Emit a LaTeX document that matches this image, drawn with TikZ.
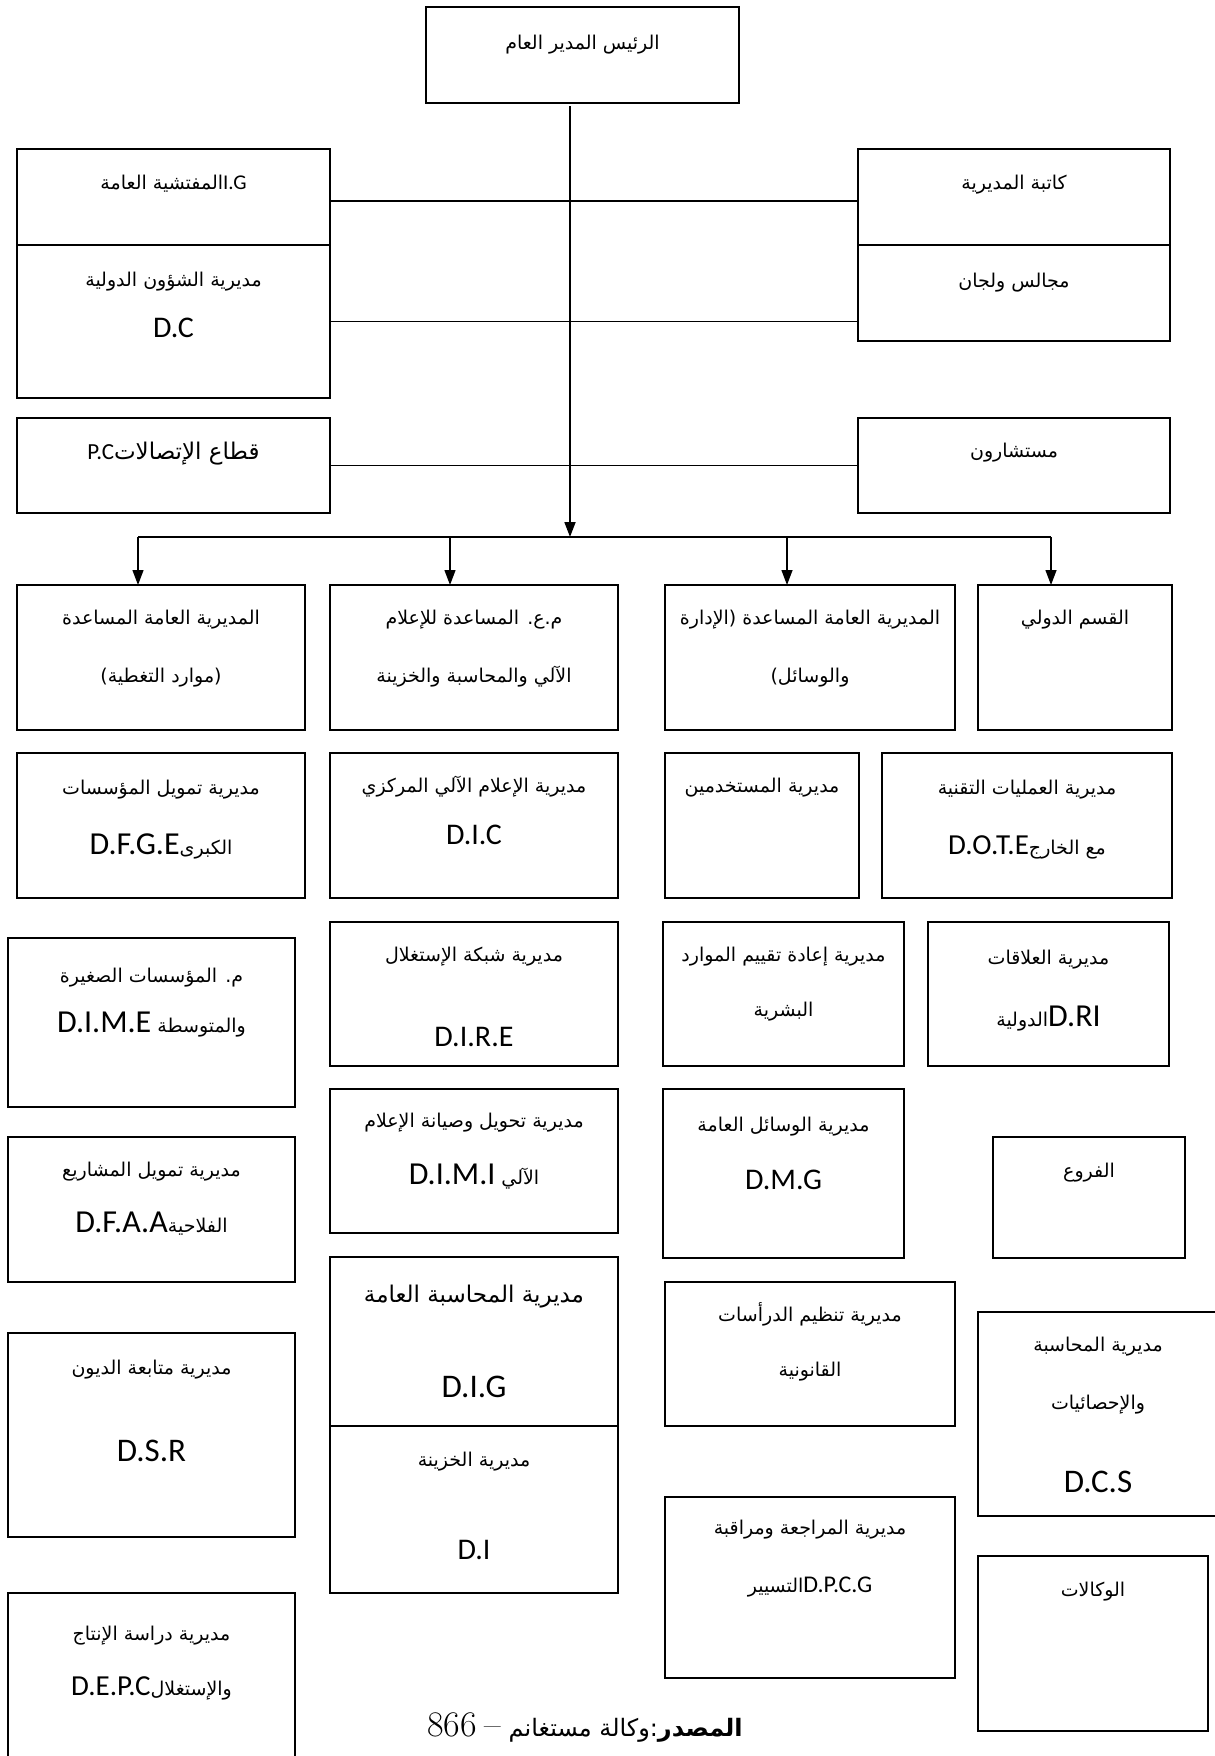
\documentclass[tikz,border=0pt]{standalone}
\usepackage{fontspec}
\usetikzlibrary{arrows.meta}
\TeXXeTstate=1
\newfontfamily\arabicfont[Script=Arabic]{DejaVu Sans}
\newfontfamily\latinfont{Carlito}
\newcommand{\ar}[1]{{\arabicfont\beginR #1\endR}}
\newcommand{\lat}[2][32]{\beginL{\latinfont\fontsize{#1}{#1}\selectfont #2}\endL}
% box from (x1,y1) to (x2,y2), pixel units, y going down
\newcommand{\orgbox}[5]{%
  \node[unit, minimum width=#4-#2, minimum height=#5-#3] (#1) at ({(#2+#4)/2},{(#3+#5)/2}) {};}
\begin{document}
\begin{tikzpicture}[x=1pt, y=-1pt,
    unit/.style={draw, line width=1.6pt, inner sep=0pt, outer sep=0pt},
    link/.style={line width=1.3pt},
    tip/.style={-{Triangle[length=15pt, width=11pt]}},
    lbl/.style={inner sep=0pt, text height=14pt, text depth=5pt, font=\fontsize{19}{21}\selectfont},
    biglbl/.style={lbl, font=\fontsize{23}{25}\selectfont},
    code/.style={inner sep=0pt, text height=19pt, text depth=0pt, font=\latinfont\fontsize{30}{30}\selectfont},
    bigcode/.style={code, font=\latinfont\fontsize{33}{33}\selectfont}]
    \useasboundingbox[fill=white] (0,0) rectangle (1215,1756);

    % top of the chart
    \orgbox{boss}{426}{7}{739}{103}
    \orgbox{ig}{17}{149}{330}{245}
    \orgbox{dc}{17}{245}{330}{398}
    \orgbox{pc}{17}{418}{330}{513}
    \orgbox{sec}{858}{149}{1170}{245}
    \orgbox{councils}{858}{245}{1170}{341}
    \orgbox{advisers}{858}{418}{1170}{513}

    \node[lbl] (boss-a) at (boss |- 0,45) {\ar{الرئيس المدير العام}};
    \node[lbl] (ig-a) at (ig |- 0,185) {\ar{\lat[21]{I.G}المفتشية العامة}};
    \node[lbl] (dc-a) at (dc |- 0,282) {\ar{مديرية الشؤون الدولية}};
    \node[code] (dc-b) at (dc |- 0,328) {D.C};
    \node[biglbl] (pc-a) at (pc |- 0,455) {\ar{قطاع الإتصالات\lat[23]{P.C}}};
    \node[lbl] (sec-a) at (sec |- 0,185) {\ar{كاتبة المديرية}};
    \node[lbl] (councils-a) at (councils |- 0,283) {\ar{مجالس ولجان}};
    \node[lbl] (advisers-a) at (advisers |- 0,453) {\ar{مستشارون}};

    % spine and side links
    \coordinate (spine) at (570,537);
    \draw[line width=1.8pt, tip, shorten <=3pt] (boss.south -| spine) -- (spine);
    \draw[link] ([yshift=-4pt]ig.east) -- ([yshift=-4pt]sec.west);
    \draw[link] (dc.east) -- (dc.east -| councils.west);
    \draw[link] (pc.east) -- (advisers.west);

    % assistant directorates
    \orgbox{res}{17}{585}{305}{730}
    \orgbox{info}{330}{585}{618}{730}
    \orgbox{adm}{665}{585}{955}{730}
    \orgbox{intl}{978}{585}{1172}{730}

    \coordinate (t1) at (138,537);
    \coordinate (t2) at (450,537);
    \coordinate (t3) at (787,537);
    \coordinate (t4) at (1051,537);
    \draw[link] (t1) -- (t4);
    \foreach \t/\b in {t1/res, t2/info, t3/adm, t4/intl}
        \draw[link, tip] (\t) -- (\t |- \b.north);

    \node[lbl] (res-a) at (res |- 0,620) {\ar{المديرية العامة المساعدة}};
    \node[lbl] (res-b) at (res |- 0,678) {\ar{(موارد التغطية)}};
    \node[lbl] (info-a) at (info |- 0,620) {\ar{م.ع. المساعدة للإعلام}};
    \node[lbl] (info-b) at (info |- 0,678) {\ar{الآلي والمحاسبة والخزينة}};
    \node[lbl] (adm-a) at (adm |- 0,620) {\ar{المديرية العامة المساعدة (الإدارة}};
    \node[lbl] (adm-b) at (adm |- 0,678) {\ar{والوسائل)}};
    \node[lbl] (intl-a) at (intl |- 0,620) {\ar{القسم الدولي}};

    % directorates
    \orgbox{dfge}{17}{753}{305}{898}
    \orgbox{dic}{330}{753}{618}{898}
    \orgbox{users}{665}{753}{859}{898}
    \orgbox{dote}{882}{753}{1172}{898}
    \orgbox{dime}{8}{938}{295}{1107}
    \orgbox{dire}{330}{922}{618}{1066}
    \orgbox{reval}{663}{922}{904}{1066}
    \orgbox{rel}{928}{922}{1169}{1066}
    \orgbox{dfaa}{8}{1137}{295}{1282}
    \orgbox{dimi}{330}{1089}{618}{1233}
    \orgbox{dmg}{663}{1089}{904}{1258}
    \orgbox{branches}{993}{1137}{1185}{1258}
    \orgbox{dig}{330}{1257}{618}{1426}
    \orgbox{di}{330}{1426}{618}{1593}
    \orgbox{dsr}{8}{1333}{295}{1537}
    \orgbox{legal}{665}{1282}{955}{1426}
    \orgbox{dcs}{978}{1312}{1218}{1516}
    \orgbox{dpcg}{665}{1497}{955}{1678}
    \orgbox{agencies}{978}{1556}{1208}{1731}
    \orgbox{depc}{8}{1593}{295}{1770}

    \node[lbl] (dfge-a) at (dfge |- 0,790) {\ar{مديرية تمويل المؤسسات}};
    \node[lbl] (dfge-b) at (dfge |- 0,850) {\ar{الكبرى\lat{D.F.G.E}}};
    \node[lbl] (dic-a) at (dic |- 0,788) {\ar{مديرية الإعلام الآلي المركزي}};
    \node[code] (dic-b) at (dic |- 0,835) {D.I.C};
    \node[lbl] (users-a) at (users |- 0,788) {\ar{مديرية المستخدمين}};
    \node[lbl] (dote-a) at (dote |- 0,790) {\ar{مديرية العمليات التقنية}};
    \node[lbl] (dote-b) at (dote |- 0,850) {\ar{مع الخارج\lat[29]{D.O.T.E}}};
    \node[lbl] (dime-a) at (dime |- 0,978) {\ar{م. المؤسسات الصغيرة}};
    \node[lbl] (dime-b) at (dime |- 0,1028) {\ar{والمتوسطة \lat{D.I.M.E}}};
    \node[lbl] (dire-a) at (dire |- 0,957) {\ar{مديرية شبكة الإستغلال}};
    \node[code] (dire-b) at (dire |- 0,1037) {D.I.R.E};
    \node[lbl] (reval-a) at (reval |- 0,957) {\ar{مديرية إعادة تقييم الموارد}};
    \node[lbl] (reval-b) at (reval |- 0,1012) {\ar{البشرية}};
    \node[lbl] (rel-a) at (rel |- 0,960) {\ar{مديرية العلاقات}};
    \node[lbl] (rel-b) at (rel |- 0,1022) {\ar{\lat{D.RI}الدولية}};
    \node[lbl] (dfaa-a) at (dfaa |- 0,1172) {\ar{مديرية تمويل المشاريع}};
    \node[lbl] (dfaa-b) at (dfaa |- 0,1228) {\ar{الفلاحية\lat{D.F.A.A}}};
    \node[lbl] (dimi-a) at (dimi |- 0,1123) {\ar{مديرية تحويل وصيانة الإعلام}};
    \node[lbl] (dimi-b) at (dimi |- 0,1180) {\ar{الآلي \lat{D.I.M.I}}};
    \node[lbl] (dmg-a) at (dmg |- 0,1127) {\ar{مديرية الوسائل العامة}};
    \node[code] (dmg-b) at (dmg |- 0,1180) {D.M.G};
    \node[lbl] (branches-a) at (branches |- 0,1173) {\ar{الفروع}};
    \node[biglbl] (dig-a) at (dig |- 0,1298) {\ar{مديرية المحاسبة العامة}};
    \node[bigcode] (dig-b) at (dig |- 0,1388) {D.I.G};
    \node[lbl] (di-a) at (di |- 0,1462) {\ar{مديرية الخزينة}};
    \node[code] (di-b) at (di |- 0,1550) {D.I};
    \node[lbl] (dsr-a) at (dsr |- 0,1370) {\ar{مديرية متابعة الديون}};
    \node[bigcode] (dsr-b) at (dsr |- 0,1452) {D.S.R};
    \node[lbl] (legal-a) at (legal |- 0,1317) {\ar{مديرية تنظيم الدرأسات}};
    \node[lbl] (legal-b) at (legal |- 0,1372) {\ar{القانونية}};
    \node[lbl] (dcs-a) at (1098,1347) {\ar{مديرية المحاسبة}};
    \node[lbl] (dcs-b) at (1098,1405) {\ar{والإحصائيات}};
    \node[bigcode] (dcs-c) at (1098,1483) {D.C.S};
    \node[lbl] (dpcg-a) at (dpcg |- 0,1530) {\ar{مديرية المراجعة ومراقبة}};
    \node[lbl] (dpcg-b) at (dpcg |- 0,1588) {\ar{\lat[24]{D.P.C.G}التسيير}};
    \node[lbl] (agencies-a) at (agencies |- 0,1592) {\ar{الوكالات}};
    \node[lbl] (depc-a) at (depc |- 0,1636) {\ar{مديرية دراسة الإنتاج}};
    \node[lbl] (depc-b) at (depc |- 0,1691) {\ar{والإستغلال\lat[29]{D.E.P.C}}};

    % source line
    \node[biglbl] (source) at (585,1732) {\ar{\fontsize{24}{26}\selectfont\textbf{المصدر}:وكالة مستغانم {\rmfamily\fontsize{36}{36}\selectfont –} \beginL{\rmfamily\fontsize{36}{36}\selectfont 866}\endL}};
\end{tikzpicture}
\end{document}
